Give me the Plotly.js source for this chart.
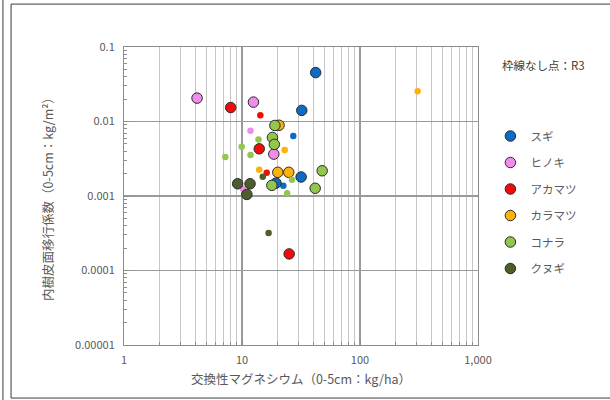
<!DOCTYPE html>
<html>
<head>
<meta charset="utf-8">
<script src="https://cdn.plot.ly/plotly-3.0.1.min.js"></script>
<style>
  html, body { margin: 0; padding: 0; background: #ffffff; }
  #chart { width: 610px; height: 400px; }
</style>
</head>
<body>
<div id="chart"></div>
<script>
// Species names (legend order) and their marker colours
const species = ['スギ', 'ヒノキ', 'アカマツ', 'カラマツ', 'コナラ', 'クヌギ'];
const speciesColors = ['#0a6cc4', '#f08cec', '#f50a0a', '#fcb20a', '#92c64c', '#4d5e2a'];

// Outlined points: exchangeable Mg (kg/ha) vs transfer coefficient (kg/m2)
const sugiX = [42.1, 32.1, 31.7, 19.4];
const sugiY = [0.0454, 0.0141, 0.0018, 0.00149];
const hinokiX = [4.16, 12.5, 18.6];
const hinokiY = [0.0206, 0.0182, 0.00365];
const akamatsuX = [8.02, 14.0, 25.1];
const akamatsuY = [0.0154, 0.0043, 0.000167];
const karamatsuX = [20.6, 20.1, 24.9];
const karamatsuY = [0.0089, 0.00208, 0.00208];
const konaraX = [19.0, 18.1, 18.8, 17.9, 47.8, 41.7];
const konaraY = [0.00885, 0.0061, 0.00493, 0.00139, 0.00218, 0.00127];
const kunugiX = [9.19, 11.7, 11.0];
const kunugiY = [0.00146, 0.00146, 0.00105];

// Points without outline (R3)
const sugiR3X = [27.2, 22.4];
const sugiR3Y = [0.00637, 0.00137];
const hinokiR3X = [11.8, 10.2];
const hinokiR3Y = [0.0075, 0.00124];
const akamatsuR3X = [14.3, 16.2];
const akamatsuR3Y = [0.0121, 0.00205];
const karamatsuR3X = [23.0, 14.0, 308];
const karamatsuR3Y = [0.00413, 0.00225, 0.0255];
const konaraR3X = [13.8, 9.94, 11.8, 7.22, 26.5, 24.1];
const konaraR3Y = [0.00574, 0.00457, 0.00354, 0.00333, 0.00165, 0.00109];
const kunugiR3X = [15.0, 16.8];
const kunugiR3Y = [0.00181, 0.000319];

// Axis tick labels
const xTickVals = [1, 10, 100, 1000];
const xTickText = ['1', '10', '100', '1,000'];
const yTickVals = [0.00001, 0.0001, 0.001, 0.01, 0.1];
const yTickText = ['0.00001', '0.0001', '0.001', '0.01', '0.1'];

const outlined = [
  [sugiX, sugiY], [hinokiX, hinokiY], [akamatsuX, akamatsuY],
  [karamatsuX, karamatsuY], [konaraX, konaraY], [kunugiX, kunugiY]
];
const plain = [
  [sugiR3X, sugiR3Y], [hinokiR3X, hinokiR3Y], [akamatsuR3X, akamatsuR3Y],
  [karamatsuR3X, karamatsuR3Y], [konaraR3X, konaraR3Y], [kunugiR3X, kunugiR3Y]
];

// Intermediate log ticks (2..9 in every decade)
function minorLogTicks(fromExp, toExp) {
  const vals = [];
  for (let e = fromExp; e < toExp; e++) {
    for (let m = 2; m <= 9; m++) vals.push(m * Math.pow(10, e));
  }
  return vals;
}

const traces = [];
species.forEach(function (name, i) {
  traces.push({
    type: 'scatter', mode: 'markers', name: name,
    x: plain[i][0], y: plain[i][1],
    legendgroup: name, showlegend: false,
    marker: { color: speciesColors[i], size: 6.5, symbol: 'circle', line: { width: 0 } },
    hoverinfo: 'skip'
  });
  traces.push({
    type: 'scatter', mode: 'markers', name: name,
    x: outlined[i][0], y: outlined[i][1],
    legendgroup: name, showlegend: true,
    marker: { color: speciesColors[i], size: 10.5, symbol: 'circle', line: { width: 1, color: '#2b2b2b' } },
    hoverinfo: 'skip'
  });
});

const font = 'Noto Sans CJK JP, Noto Sans, sans-serif';
const gray = '#595959';

const layout = {
  width: 610, height: 400,
  margin: { l: 124, r: 132, t: 47, b: 55 },
  paper_bgcolor: '#ffffff', plot_bgcolor: '#ffffff',
  font: { family: font, color: gray, size: 11 },
  showlegend: true,
  xaxis: {
    type: 'log', range: [0, 3],
    tickmode: 'array', tickvals: xTickVals, ticktext: xTickText,
    showgrid: true, gridcolor: '#9a9a9a', gridwidth: 1.6,
    showline: true, linecolor: '#8c8c8c', linewidth: 1, mirror: true,
    ticks: 'inside', ticklen: 5, tickcolor: '#8c8c8c',
    tickfont: { size: 11, color: gray },
    ticklabelstandoff: 5,
    zeroline: false,
    minor: {
      tickmode: 'array', tickvals: minorLogTicks(0, 3),
      showgrid: true, gridcolor: '#c6c6c6', gridwidth: 1,
      ticks: 'inside', ticklen: 3, tickcolor: '#8c8c8c'
    },
    title: { text: '交換性マグネシウム（0-5cm：kg/ha）', font: { size: 12.5, color: gray }, standoff: 9 }
  },
  yaxis: {
    type: 'log', range: [-5, -1],
    tickmode: 'array', tickvals: yTickVals, ticktext: yTickText,
    showgrid: true, gridcolor: '#9a9a9a', gridwidth: 1.6,
    showline: true, linecolor: '#8c8c8c', linewidth: 1, mirror: true,
    ticks: 'inside', ticklen: 5, tickcolor: '#8c8c8c',
    tickfont: { size: 11, color: gray },
    ticklabelstandoff: 6,
    zeroline: false,
    minor: {
      tickmode: 'array', tickvals: minorLogTicks(-5, -1),
      showgrid: false, ticks: 'inside', ticklen: 3, tickcolor: '#8c8c8c'
    },
    title: { text: '内樹皮面移行係数（0-5cm：kg/m²）', font: { size: 12.5, color: gray }, standoff: 18 }
  },
  legend: {
    x: 1.035, xanchor: 'left', y: 0.75, yanchor: 'top',
    bgcolor: 'rgba(0,0,0,0)', borderwidth: 0,
    font: { size: 11.5, color: gray, family: font },
    tracegroupgap: 7.5
  },
  annotations: [{
    xref: 'paper', yref: 'paper', x: 1.062, y: 0.94,
    xanchor: 'left', yanchor: 'middle', showarrow: false,
    text: '枠線なし点：R3', font: { size: 11.5, color: '#404040', family: font }
  }],
  shapes: [
    { type: 'rect', xref: 'paper', yref: 'paper', x0: -0.319, x1: 1.38, y0: -0.178, y1: 1.144,
      line: { color: '#3a3a3a', width: 1 }, fillcolor: 'rgba(0,0,0,0)', layer: 'below' },
    { type: 'line', xref: 'paper', yref: 'paper', x0: -0.342, x1: -0.342, y0: -0.2, y1: 1.2,
      line: { color: '#3a3a3a', width: 1 } }
  ]
};

Plotly.newPlot('chart', traces, layout, { staticPlot: true, displayModeBar: false });
</script>
</body>
</html>
